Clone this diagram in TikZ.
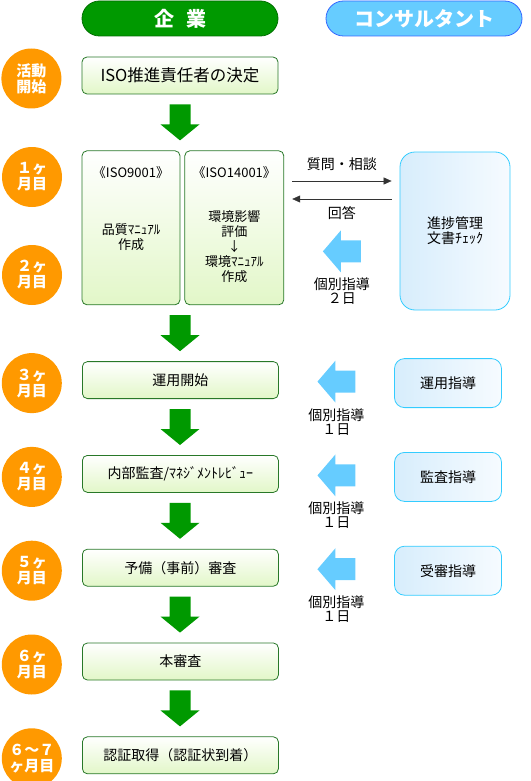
\documentclass[tikz,border=0pt]{standalone}
\usepackage{fontspec}
\setmainfont{Noto Sans CJK JP}
\usepackage{xcolor}
\usetikzlibrary{arrows.meta, positioning, calc}

\definecolor{kgreen}{RGB}{0,153,0}
\definecolor{kgreenline}{RGB}{0,110,0}
\definecolor{cblue}{RGB}{102,204,255}
\definecolor{cblueline}{RGB}{51,102,255}
\definecolor{orng}{RGB}{255,153,0}
\definecolor{stepline}{RGB}{40,120,40}
\definecolor{stepfill}{RGB}{226,247,200}
\definecolor{boxline}{RGB}{51,204,255}
\definecolor{boxleft}{RGB}{215,237,252}
\definecolor{boxright}{RGB}{246,251,255}

\begin{document}
\begin{tikzpicture}[
  x=1pt, y=-1pt,
  node distance = 56pt and 20pt,
  head/.style = {rectangle, rounded corners=17.5pt, minimum width=196pt,
                 minimum height=35pt, inner sep=0pt, text=white, line width=0.8pt,
                 font=\bfseries\fontsize{20}{20}\selectfont},
  stepbox/.style = {rectangle, draw=stepline, rounded corners=5pt, line width=0.8pt,
                    top color=white, bottom color=stepfill,
                    minimum width=196pt, minimum height=37pt, inner sep=0pt,
                    font=\fontsize{14}{14}\selectfont},
  month/.style = {circle, fill=orng, minimum size=60pt, inner sep=0pt,
                  text=white, align=center, font=\bfseries\fontsize{15}{16}\selectfont},
  cbox/.style = {rectangle, draw=boxline, rounded corners=10pt, line width=0.8pt,
                 left color=boxleft, right color=boxright,
                 minimum width=107pt, minimum height=49pt, inner sep=0pt,
                 align=center, font=\fontsize{14}{15}\selectfont},
  guide/.style = {align=center, inner sep=0pt, font=\fontsize{14}{14}\selectfont},
  isotext/.style = {align=center, inner sep=0pt, font=\fontsize{13}{15}\selectfont},
  qa/.style = {-{Triangle[length=8pt,width=7pt]}, draw=black!80, line width=0.6pt,
               shorten <=8pt, shorten >=8pt},
  pics/downarr/.style = {code={
    \fill[kgreen] (-10.5,-18) -- (10.5,-18) -- (10.5,2) -- (19.5,2) -- (0,18)
                  -- (-19.5,2) -- (-10.5,2) -- cycle;}},
  pics/leftarr/.style = {code={
    \fill[cblue] (19,-11) -- (19,11) -- (-1,11) -- (-1,21) -- (-19,0)
                 -- (-1,-21) -- (-1,-11) -- cycle;}}
]
  \useasboundingbox (0,0) rectangle (530,781);

  \node[head, fill=kgreen, draw=kgreenline] (firm) at (180,18.5) {企\kern12pt 業};
  \node[head, fill=cblue, draw=cblueline]   (cons) at (424,18.5) {コンサルタント};

  \node[stepbox, font=\fontsize{16.5}{16.5}\selectfont] (s1) at (180,75.5) {ISO推進責任者の決定};
  \node[stepbox, minimum width=98pt, minimum height=154pt,
        below=of s1.south west, anchor=north west] (iso9) {};
  \node[stepbox, minimum width=99pt, minimum height=154pt, right=4pt of iso9] (iso14) {};
  \node[isotext] (iso9-title)  at ($(iso9.north)+(0,22)$)  {《ISO9001》};
  \node[isotext] (iso9-body)   at ($(iso9.center)+(0,9)$)  {品質ﾏﾆｭｱﾙ\\作成};
  \node[isotext] (iso14-title) at ($(iso14.north)+(0,22)$) {《ISO14001》};
  \node[isotext] (iso14-body)  at ($(iso14.center)+(0,19)$) {環境影響\\評価\\↓\\環境ﾏﾆｭｱﾙ\\作成};

  \node[stepbox, below=of iso9.south east] (s3) {運用開始};
  \node[stepbox, below=of s3] (s4) {内部監査/ﾏﾈｼﾞﾒﾝﾄﾚﾋﾞｭｰ};
  \node[stepbox, below=of s4] (s5) {予備（事前）審査};
  \node[stepbox, below=of s5] (s6) {本審査};
  \node[stepbox, below=of s6] (s7) {認証取得（認証状到着）};

  \node[month, left=of s1, yshift=-3pt] (m0) {活動\\開始};
  \node[month] (m1) at (32,177) {１ヶ\\月目};
  \node[month] (m2) at (32,275) {２ヶ\\月目};
  \node[month, left=of s3, yshift=-3pt] (m3) {３ヶ\\月目};
  \node[month, left=of s4, yshift=-3pt] (m4) {４ヶ\\月目};
  \node[month, left=of s5, yshift=-3pt] (m5) {５ヶ\\月目};
  \node[month, left=of s6, yshift=-3pt] (m6) {６ヶ\\月目};
  \node[month, left=of s7, yshift=-3pt] (m7) {６〜７\\ヶ月目};

  \foreach \a/\b in {s1/iso9, iso9/s3, s3/s4, s4/s5, s5/s6, s6/s7} {
    \coordinate (mid) at ($(\a.south)!0.5!(\b.north)$);
    \pic at (mid -| s1) {downarr};
  }

  \coordinate (ccol) at (448,0);
  \node[cbox, minimum width=110pt, minimum height=158pt, rounded corners=15pt]
       (prog) at (455,231) {進捗管理\\文書ﾁｪｯｸ};
  \node[cbox, yshift=-3pt] (c3) at (s3 -| ccol) {運用指導};
  \node[cbox, yshift=-3pt] (c4) at (s4 -| ccol) {監査指導};
  \node[cbox, yshift=-3pt] (c5) at (s5 -| ccol) {受審指導};

  \coordinate (qtop) at (0,181);
  \coordinate (qbot) at (0,199);
  \draw[qa] (iso14.east |- qtop) -- (prog.west |- qtop);
  \draw[qa] (prog.west |- qbot) -- (iso14.east |- qbot);
  \node[guide] (ask) at ($(iso14.east |- qtop)!0.5!(prog.west |- qtop)+(0,-17)$) {質問・相談};
  \node[guide] (ans) at ($(iso14.east |- qbot)!0.5!(prog.west |- qbot)+(0,14)$) {回答};

  \coordinate (g2) at ($(iso14.east)!0.5!(prog.west)+(0,22)$);
  \pic at (g2) {leftarr};
  \node[guide] (prog-lbl) at ($(g2)+(0,40)$) {個別指導\\２日};

  \foreach \s/\c in {s3/c3, s4/c4, s5/c5} {
    \coordinate (g) at ($(\s.east)!0.5!(\c.west)$);
    \pic at (g) {leftarr};
    \node[guide] (\c-lbl) at ($(g)+(0,40)$) {個別指導\\１日};
  }
\end{tikzpicture}
\end{document}
